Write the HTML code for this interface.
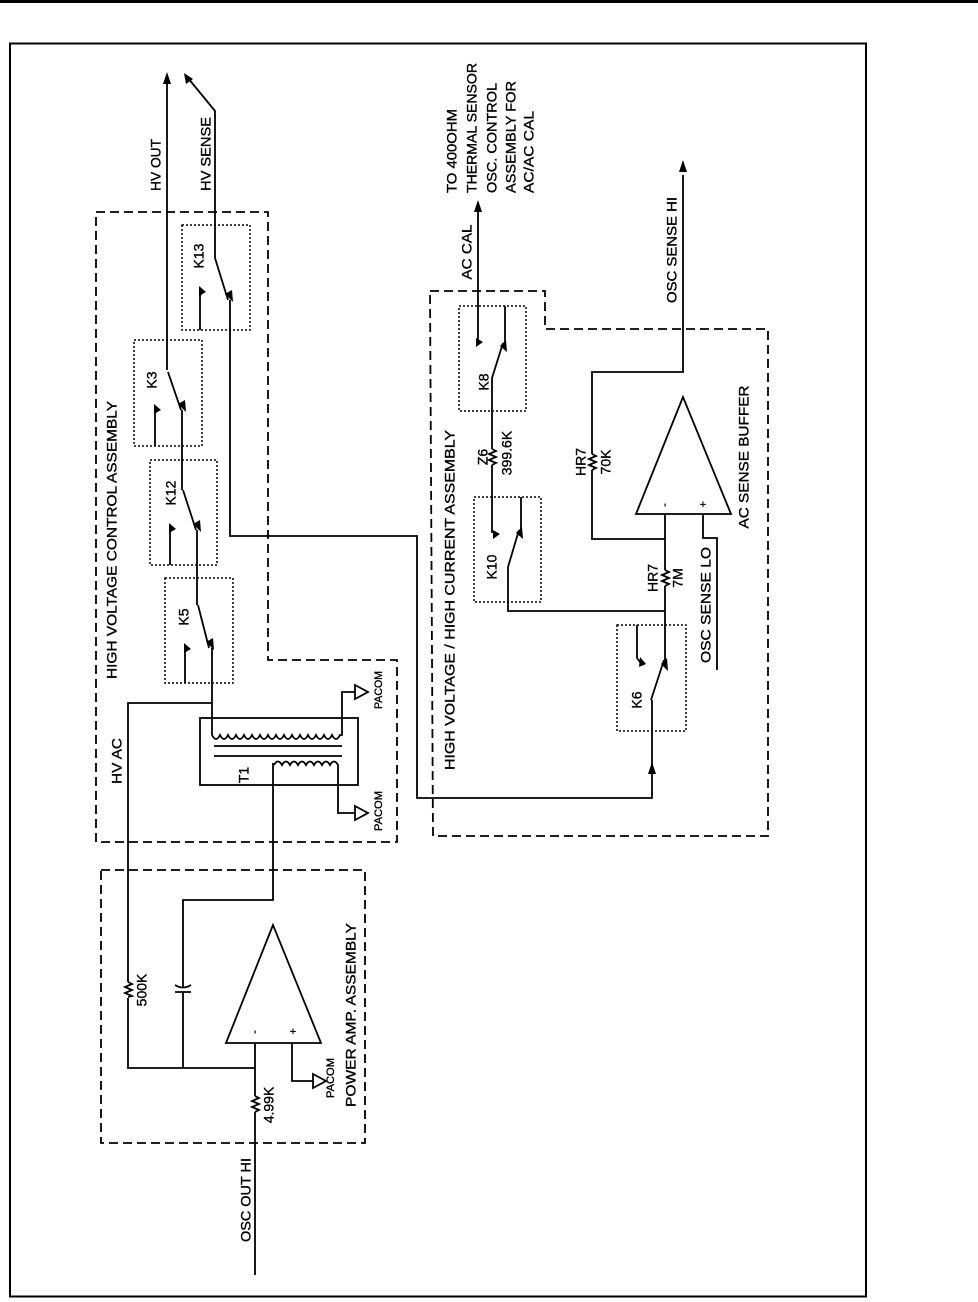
<!DOCTYPE html>
<html><head><meta charset="utf-8"><style>
html,body{margin:0;padding:0;background:#fff;}
svg{display:block;}
text{font-family:"Liberation Sans",sans-serif;font-size:14px;fill:#000;stroke:#000;stroke-width:0.35;}
.s{fill:none;stroke:#000;stroke-width:1.8;}
.d{fill:none;stroke:#000;stroke-width:1.8;stroke-dasharray:9,5;}
.o{fill:none;stroke:#000;stroke-width:1.5;stroke-dasharray:2,2;}
.f{fill:#000;stroke:none;}
</style></head><body>
<svg width="978" height="1302" viewBox="0 0 978 1302" xmlns="http://www.w3.org/2000/svg">
<line x1="0" y1="1.5" x2="978" y2="1.5" stroke="#000" stroke-width="3"/>
<rect x="10" y="43.5" width="856" height="1253" fill="none" stroke="#000" stroke-width="2"/>

<polygon class="d" points="96,212 268,212 268,660 397,660 397,842 96,842"/>
<rect class="d" x="101" y="870" width="264" height="273"/>
<polygon class="d" points="430,291 545,291 545,329 768,329 768,836 433,836"/>

<rect class="o" x="182" y="225" width="68" height="105"/>
<rect class="o" x="134" y="340" width="68" height="106"/>
<rect class="o" x="150" y="460" width="67" height="105"/>
<rect class="o" x="165" y="578" width="68" height="105"/>
<rect class="o" x="459" y="306" width="67" height="105"/>
<rect class="o" x="474" y="497" width="67" height="105"/>
<rect class="o" x="617" y="625" width="69" height="106"/>

<path class="s" d="M167,80 V370 M168,372 L181,410 M182,410 V490 M183,490 L196,530 M197,530 V605 M198,605 L209,648 M212,648 V735"/>
<polygon class="f" points="167,72 163,84 171,84"/>
<path class="s" d="M155,446 V413 L157,408 M170,565 V532 L172,528 M185,683 V652 L187,648 M200,330 V296 L202,291"/>
<polygon class="f" points="154,404 161,410 154,414"/>
<polygon class="f" points="169,523 176,529 169,533"/>
<polygon class="f" points="184,643 191,649 184,653"/>
<polygon class="f" points="199,286 206,292 199,296"/>
<polygon class="f" points="178,404 185,400 186,412"/>
<polygon class="f" points="193,524 200,520 201,532"/>
<polygon class="f" points="206,642 213,638 214,650"/>
<polygon class="f" points="225,294 232,290 233,302"/>
<path class="s" d="M188,78 L215,111 V258 M215,258 L228,300 M230,300 V536 H417 V798 H652 V700 M651,700 L664,660 M665,660 V611"/>
<polygon class="f" points="184,73 186,84 193,79"/>
<polygon class="f" points="652,762 648,774 656,774"/>
<path class="s" d="M637,625 V658 L640,662"/>
<polygon class="f" points="640,657 646,664 639,667"/>
<polygon class="f" points="661,664 667,658 668,671"/>

<path class="s" d="M211,703 H128 V982 M128,998 V1068 H255"/>
<path class="s" d="M128,982 l4,2 -7,3 7,3 -7,3 7,3 -4,1"/>
<path class="s" d="M183,1068 V992 M183,988 V900 H273 V763"/>
<path class="s" d="M175,992 H191 M175,985 Q183,990 191,985"/>
<rect class="s" x="200" y="718" width="158" height="67"/>
<path class="s" d="M214,746 H342 M214,756 H342"/>
<path class="s" d="M212,735 q4,8 8,0 q4,8 8,0 q4,8 8,0 q4,8 8,0 q4,8 8,0 q4,8 8,0 q4,8 8,0 q4,8 8,0 q4,8 8,0 q4,8 8,0 q4,8 8,0 q4,8 8,0 q4,8 8,0 q4,8 8,0 q4,8 8,0 q4,8 8,0 H342 V692 H355"/>
<path class="s" d="M274,765 q4,-7 8,0 q4,-7 8,0 q4,-7 8,0 q4,-7 8,0 q4,-7 8,0 q4,-7 8,0 q4,-7 8,0 q4,-7 8,0 V813 H355"/>
<polygon class="s" points="355,685 368,692 355,699"/>
<polygon class="s" points="355,806 368,813 355,820"/>

<polygon class="s" points="273,925 226,1043 321,1043"/>
<path class="s" d="M255,1043 V1096 M255,1112 V1275 M292,1043 V1081 H313"/>
<path class="s" d="M255,1096 l4,2 -7,3 7,3 -7,3 7,3 -4,2"/>
<polygon class="s" points="313,1074 326,1081 313,1088"/>

<path class="s" d="M478,208 V342 M492,378 L503,343 M505,343 V306 M492,378 V449 M492,465 V533 M508,567 L519,530 M521,530 V497 M508,567 V611 H665 V586 M665,570 V514 M665,539 H592 V470 M592,454 V372 H683 V175 M703,514 V538 H717 V670"/>
<polygon class="f" points="478,200 474,212 482,212"/>
<polygon class="f" points="683,160 679,172 687,172"/>
<path class="s" d="M492,449 l4,2 -7,3 7,3 -7,3 7,3 -4,2"/>
<path class="s" d="M592,454 l4,2 -7,3 7,3 -7,3 7,3 -4,2"/>
<path class="s" d="M665,570 l4,2 -7,3 7,3 -7,3 7,3 -4,2"/>
<polygon class="f" points="476,338 483,342 476,347"/>
<polygon class="f" points="493,530 500,534 493,539"/>
<polygon class="f" points="500,346 506,340 507,352"/>
<polygon class="f" points="516,533 522,527 523,539"/>
<polygon class="s" points="683,397 636,514 731,514"/>

<g>
<text transform="translate(157,165) rotate(-90)" text-anchor="middle" dominant-baseline="middle" textLength="52" lengthAdjust="spacingAndGlyphs">HV OUT</text>
<text transform="translate(207,154) rotate(-90)" text-anchor="middle" dominant-baseline="middle" textLength="74" lengthAdjust="spacingAndGlyphs">HV SENSE</text>
<text transform="translate(200,256) rotate(-90)" text-anchor="middle" dominant-baseline="middle">K13</text>
<text transform="translate(153,380) rotate(-90)" text-anchor="middle" dominant-baseline="middle">K3</text>
<text transform="translate(172,493) rotate(-90)" text-anchor="middle" dominant-baseline="middle">K12</text>
<text transform="translate(185,617) rotate(-90)" text-anchor="middle" dominant-baseline="middle">K5</text>
<text transform="translate(113,540) rotate(-90)" text-anchor="middle" dominant-baseline="middle" textLength="278" lengthAdjust="spacingAndGlyphs">HIGH VOLTAGE CONTROL ASSEMBLY</text>
<text transform="translate(118,761) rotate(-90)" text-anchor="middle" dominant-baseline="middle" textLength="46" lengthAdjust="spacingAndGlyphs">HV AC</text>
<text transform="translate(245,775) rotate(-90)" text-anchor="middle" dominant-baseline="middle">T1</text>
<text transform="translate(379,690) rotate(-90)" text-anchor="middle" dominant-baseline="middle" style="font-size:11px" textLength="38" lengthAdjust="spacingAndGlyphs">PACOM</text>
<text transform="translate(379,811) rotate(-90)" text-anchor="middle" dominant-baseline="middle" style="font-size:11px" textLength="40" lengthAdjust="spacingAndGlyphs">PACOM</text>
<text transform="translate(143,990) rotate(-90)" text-anchor="middle" dominant-baseline="middle">500K</text>
<text transform="translate(270,1105) rotate(-90)" text-anchor="middle" dominant-baseline="middle">4.99K</text>
<text transform="translate(331,1078) rotate(-90)" text-anchor="middle" dominant-baseline="middle" style="font-size:11px" textLength="40" lengthAdjust="spacingAndGlyphs">PACOM</text>
<text transform="translate(352,1015) rotate(-90)" text-anchor="middle" dominant-baseline="middle" textLength="184" lengthAdjust="spacingAndGlyphs">POWER AMP.  ASSEMBLY</text>
<text transform="translate(255,1032) rotate(-90)" text-anchor="middle" dominant-baseline="middle" style="font-size:11px">-</text>
<text x="293" y="1035" text-anchor="middle" style="font-size:11px">+</text>
<text transform="translate(247,1200) rotate(-90)" text-anchor="middle" dominant-baseline="middle" textLength="84" lengthAdjust="spacingAndGlyphs">OSC OUT HI</text>

<text transform="translate(451,600) rotate(-90)" text-anchor="middle" dominant-baseline="middle" textLength="340" lengthAdjust="spacingAndGlyphs">HIGH VOLTAGE / HIGH CURRENT ASSEMBLY</text>
<text transform="translate(468,252) rotate(-90)" text-anchor="middle" dominant-baseline="middle" textLength="55" lengthAdjust="spacingAndGlyphs">AC CAL</text>
<text transform="translate(453,193) rotate(-90)" dominant-baseline="middle" textLength="84" lengthAdjust="spacingAndGlyphs">TO 400OHM</text>
<text transform="translate(473,193) rotate(-90)" dominant-baseline="middle" textLength="130" lengthAdjust="spacingAndGlyphs">THERMAL SENSOR</text>
<text transform="translate(493,193) rotate(-90)" dominant-baseline="middle" textLength="110" lengthAdjust="spacingAndGlyphs">OSC. CONTROL</text>
<text transform="translate(512,193) rotate(-90)" dominant-baseline="middle" textLength="112" lengthAdjust="spacingAndGlyphs">ASSEMBLY FOR</text>
<text transform="translate(530,193) rotate(-90)" dominant-baseline="middle" textLength="82" lengthAdjust="spacingAndGlyphs">AC/AC CAL</text>
<text transform="translate(485,382) rotate(-90)" text-anchor="middle" dominant-baseline="middle">K8</text>
<text transform="translate(484,457) rotate(-90)" text-anchor="middle" dominant-baseline="middle">Z6</text>
<text transform="translate(508,453) rotate(-90)" text-anchor="middle" dominant-baseline="middle">399.6K</text>
<text transform="translate(493,567) rotate(-90)" text-anchor="middle" dominant-baseline="middle">K10</text>
<text transform="translate(582,462) rotate(-90)" text-anchor="middle" dominant-baseline="middle">HR7</text>
<text transform="translate(607,462) rotate(-90)" text-anchor="middle" dominant-baseline="middle">70K</text>
<text transform="translate(665,505) rotate(-90)" text-anchor="middle" dominant-baseline="middle" style="font-size:11px">-</text>
<text x="703" y="508" text-anchor="middle" style="font-size:11px">+</text>
<text transform="translate(745,457) rotate(-90)" text-anchor="middle" dominant-baseline="middle" textLength="143" lengthAdjust="spacingAndGlyphs">AC SENSE BUFFER</text>
<text transform="translate(654,578) rotate(-90)" text-anchor="middle" dominant-baseline="middle">HR7</text>
<text transform="translate(679,578) rotate(-90)" text-anchor="middle" dominant-baseline="middle">7M</text>
<text transform="translate(707,605) rotate(-90)" text-anchor="middle" dominant-baseline="middle" textLength="116" lengthAdjust="spacingAndGlyphs">OSC SENSE LO</text>
<text transform="translate(638,700) rotate(-90)" text-anchor="middle" dominant-baseline="middle">K6</text>
<text transform="translate(673,250) rotate(-90)" text-anchor="middle" dominant-baseline="middle" textLength="106" lengthAdjust="spacingAndGlyphs">OSC SENSE HI</text>
</g>
</svg>
</body></html>
